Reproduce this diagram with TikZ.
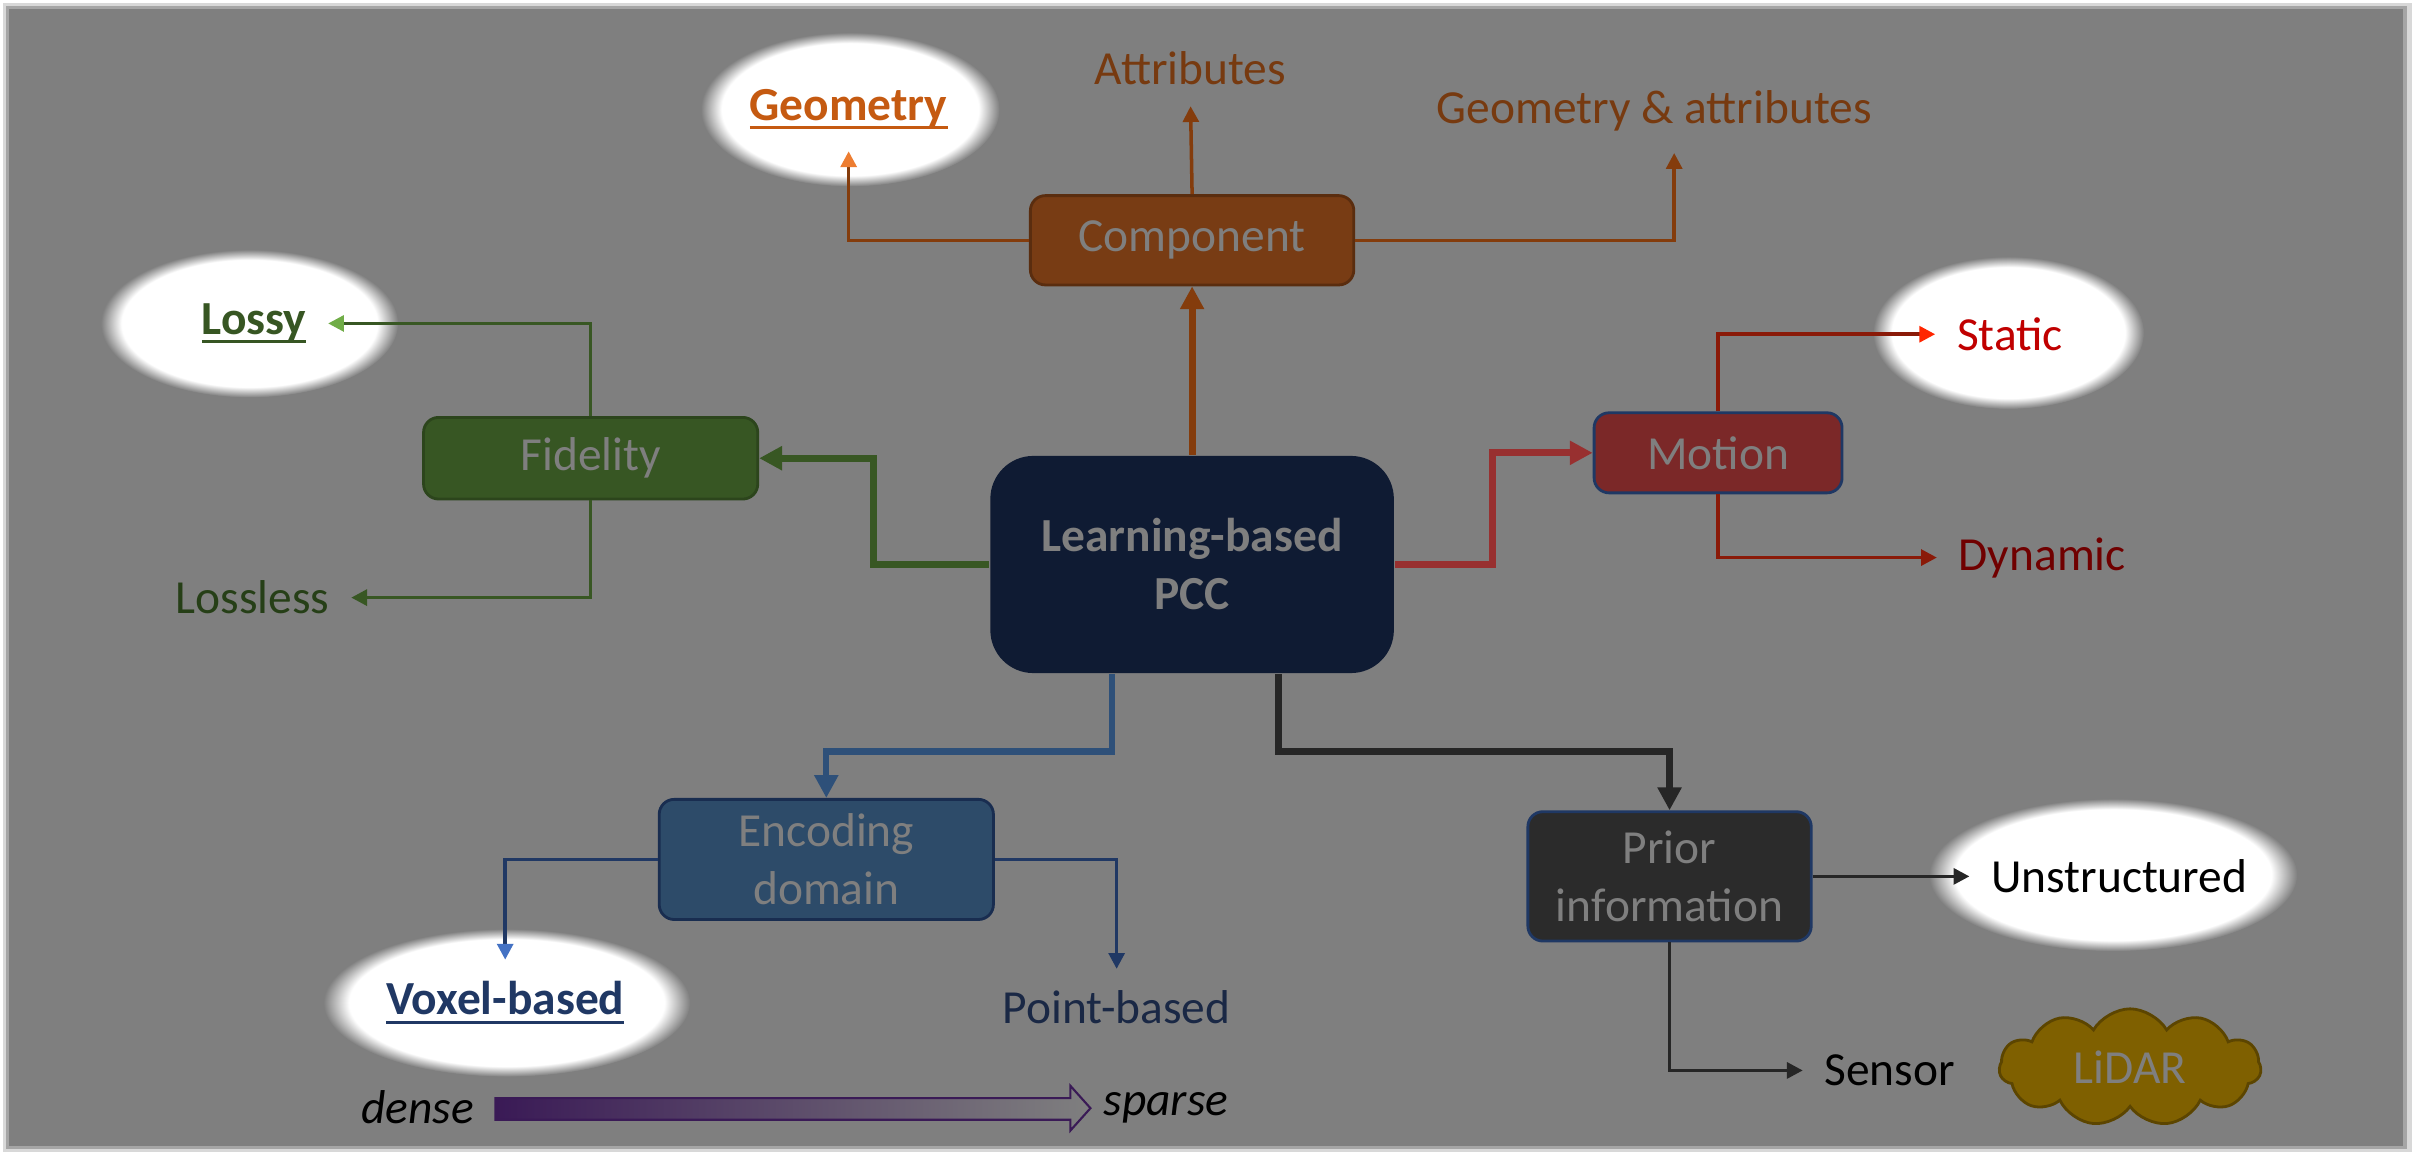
\documentclass[tikz,border=0pt]{standalone}
\usepackage{fontspec}
\setmainfont{Carlito}
\usepackage{xcolor}
\usepackage{tikz}
\usetikzlibrary{shapes.geometric, shapes.symbols, arrows.meta, positioning}

\definecolor{bggray}{HTML}{7F7F7F}
\definecolor{pccblue}{HTML}{0F1B33}
\definecolor{compbrown}{HTML}{783C14}
\definecolor{linebrown}{HTML}{843C0C}
\definecolor{txtbrown}{HTML}{773A10}
\definecolor{geoorange}{HTML}{C55A11}
\definecolor{tiporange}{HTML}{ED7D31}
\definecolor{fidgreen}{HTML}{375623}
\definecolor{linegreen}{HTML}{385723}
\definecolor{tipgreen}{HTML}{70AD47}
\definecolor{lessgreen}{HTML}{263F17}
\definecolor{motred}{HTML}{7B2828}
\definecolor{thickred}{HTML}{983030}
\definecolor{linered}{HTML}{8A1A08}
\definecolor{statred}{HTML}{C00000}
\definecolor{tipred}{HTML}{FF2600}
\definecolor{dynred}{HTML}{700000}
\definecolor{encblue}{HTML}{2D4B69}
\definecolor{lineblue}{HTML}{2E5079}
\definecolor{voxblue}{HTML}{203864}
\definecolor{tipblue}{HTML}{4472C4}
\definecolor{ptblue}{HTML}{1A2845}
\definecolor{navyborder}{HTML}{1F3864}
\definecolor{priorgray}{HTML}{2B2B2B}
\definecolor{lineblack}{HTML}{262626}
\definecolor{lidarfill}{HTML}{7F6000}
\definecolor{lidarborder}{HTML}{5C4500}
\definecolor{densepurple}{HTML}{3A1A56}

\pgfdeclareradialshading{glow}{\pgfpoint{0bp}{0bp}}{color(0bp)=(white); color(21.5bp)=(white); color(25bp)=(bggray); color(50bp)=(bggray)}

\newlength\px
\setlength\px{0.154mm}
\newcommand{\thickul}[1]{\setbox0\hbox{#1}\rlap{\rule[-2.6pt]{\wd0}{0.9pt}}\box0}

\tikzset{
    box/.style={rectangle, rounded corners=1.5mm, inner sep=0pt, text=bggray, align=center,
        font=\fontsize{13.5}{16.5}\selectfont, line width=0.8pt},
    lbl/.style={inner sep=6pt, font=\fontsize{13.5}{16.5}\selectfont},
    glowspot/.style={ellipse, shading=glow, inner sep=0pt},
    thick arrow/.style={line width=2pt, -{Triangle[length=6.5pt,width=6.5pt]}},
    thin arrow/.style={line width=1pt, -{Triangle[length=4.5pt,width=4.5pt]}},
}

\begin{document}
\begin{tikzpicture}[x=\px, y=-\px]

    % Background
    \useasboundingbox (0,0) rectangle (1568,749);
    \fill[white] (0,0) rectangle (1568,749);
    \fill[bggray!30] (2,2) rectangle (1566,748);
    \fill[bggray!70] (4,4) rectangle (1563,746);
    \fill[bggray] (6,6) rectangle (1560,744);

    % Glows
    \node[glowspot, minimum width=194*\px, minimum height=100*\px] at (552,71) {};
    \node[glowspot, minimum width=193*\px, minimum height=96*\px] at (162,210) {};
    \node[glowspot, minimum width=176*\px, minimum height=99*\px] at (1304,216) {};
    \node[glowspot, minimum width=238*\px, minimum height=96*\px] at (329,651) {};
    \node[glowspot, minimum width=239*\px, minimum height=99*\px] at (1372,568) {};

    % Boxes
    \node[box, fill=pccblue, rounded corners=4.3mm, minimum width=262*\px, minimum height=141*\px,
        font=\fontsize{13.5}{16.5}\selectfont\bfseries] (pcc) at (774,366.5) {Learning-based\\PCC};
    \node[box, fill=compbrown, draw=compbrown!75!black, minimum width=210*\px, minimum height=58*\px] (component) at (774,156) {Component};
    \node[box, fill=fidgreen, draw=fidgreen!80!black, minimum width=217*\px, minimum height=53*\px] (fidelity) at (383.5,297.5) {Fidelity};
    \node[box, fill=motred, draw=navyborder, minimum width=161*\px, minimum height=52*\px] (motion) at (1115.5,294) {Motion};
    \node[box, fill=encblue, draw=navyborder!80!black, minimum width=217*\px, minimum height=78*\px] (encoding) at (536.5,558) {Encoding\\domain};
    \node[box, fill=priorgray, draw=navyborder, minimum width=184*\px, minimum height=84*\px] (prior) at (1084,569) {Prior\\information};

    % Labels
    \node[lbl, text=txtbrown] (attributes) at (773,44) {Attributes};
    \node[lbl, text=geoorange] (geometry) at (551,71) {\thickul{\textbf{Geometry}}};
    \node[lbl, text=txtbrown] (geomattr) at (1074,72) {Geometry \& attributes};
    \node[lbl, text=fidgreen] (lossy) at (165,210) {\thickul{\textbf{Lossy}}};
    \node[lbl, text=lessgreen] (lossless) at (164,388) {Lossless};
    \node[lbl, text=statred] (static) at (1305,217) {Static};
    \node[lbl, text=dynred] (dynamic) at (1326,362) {Dynamic};
    \node[lbl, text=voxblue] (voxel) at (328,651) {\thickul{\textbf{Voxel-based}}};
    \node[lbl, text=ptblue] (point) at (725,654) {Point-based};
    \node[lbl, text=black] (unstructured) at (1376,569) {Unstructured};
    \node[lbl, text=black] (sensor) at (1227,695) {Sensor};
    \node[cloud, cloud puffs=11, cloud puff arc=120, cloud ignores aspect, fill=lidarfill, draw=lidarborder, line width=0.8pt,
        text=bggray, inner sep=0pt, minimum width=170*\px, minimum height=76*\px,
        font=\fontsize{13.5}{16.5}\selectfont] (lidar) at (1383,693) {LiDAR};
    \node[lbl, font=\fontsize{13.5}{16.5}\selectfont\itshape] (dense) at (271,719) {dense};
    \node[lbl, font=\fontsize{13.5}{16.5}\selectfont\itshape] (sparse) at (757,719) {sparse};

    % Component branch
    \draw[thick arrow, linebrown] (pcc.north) -- (component.south);
    \draw[thin arrow, linebrown] (component.north) -- (attributes.south);
    \draw[line width=1pt, linebrown, -{Triangle[length=4.5pt,width=4.5pt,color=tiporange]}] (component.west) -| (geometry.south);
    \draw[thin arrow, linebrown] (component.east) -| (geomattr.south -| 1087,0);

    % Fidelity branch
    \draw[thick arrow, linegreen] (pcc.west) -- ++(-75,0) |- (fidelity.east);
    \draw[line width=1pt, linegreen, -{Triangle[length=4.5pt,width=4.5pt,color=tipgreen]}] (fidelity.north) |- (lossy.east);
    \draw[thin arrow, linegreen] (fidelity.south) |- (lossless.east);

    % Motion branch
    \draw[thick arrow, thickred] (pcc.east) -- ++(63,0) |- (motion.west);
    \draw[line width=1pt, linered, -{Triangle[length=4.5pt,width=4.5pt,color=tipred]}] (motion.north) |- (static.west);
    \draw[thin arrow, linered] (motion.south) |- (dynamic.west);

    % Encoding branch
    \draw[thick arrow, lineblue, line width=1.8pt] ([xshift=-52*\px]pcc.south) -- ++(0,50) -| (encoding.north);
    \draw[line width=1pt, voxblue, -{Triangle[length=4.5pt,width=4.5pt,color=tipblue]}] (encoding.west) -| (voxel.north);
    \draw[thin arrow, voxblue] (encoding.east) -| (point.north);

    % Prior branch
    \draw[thick arrow, lineblack, line width=1.8pt] ([xshift=56*\px]pcc.south) -- ++(0,50) -| (prior.north);
    \draw[thin arrow, lineblack] (prior.east) -- (unstructured.west);
    \draw[thin arrow, lineblack] (prior.south) |- (sensor.west);

    % Dense to sparse
    \shade[left color=densepurple, right color=bggray, draw=densepurple, line width=0.6pt]
        (dense.east) ++(0,-6) -- (695,713) -- (695,705) -- (708,719.5) -- (695,734) -- (695,727) -- (dense.east |- 0,727) -- cycle;

\end{tikzpicture}
\end{document}
